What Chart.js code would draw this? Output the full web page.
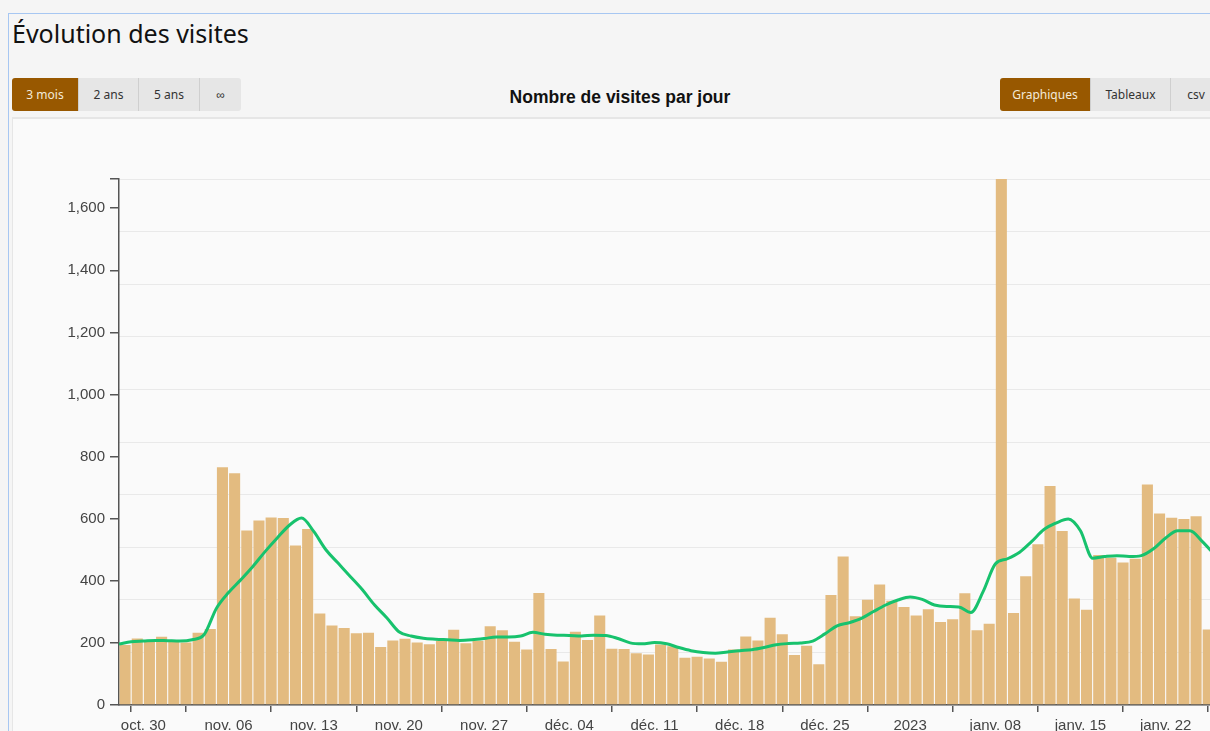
<!DOCTYPE html>
<html lang="fr">
<head>
<meta charset="utf-8">
<title>Évolution des visites</title>
<script src="https://cdn.jsdelivr.net/npm/chart.js@4/dist/chart.umd.min.js"></script>
<style>
  html, body { margin: 0; padding: 0; background: #f5f5f5; overflow: hidden; width: 1210px; height: 731px; }
  #cadre { position: absolute; left: 8px; top: 13px; width: 1400px; height: 900px; border-top: 1px solid #a7c7f2; border-left: 1px solid #a7c7f2; }
  h1 { position: absolute; left: 12px; top: 16px; margin: 0; font: 400 25px "Noto Sans", sans-serif; color: #111; }
  .groupe { position: absolute; top: 78px; display: flex; height: 33px; }
  .groupe button { border: 0; border-right: 1px solid #cfcfcf; background: #e6e6e6; color: #333; font: 12px "Noto Sans", sans-serif; padding: 0; height: 33px; }
  .groupe button:first-child { border-radius: 3px 0 0 3px; }
  .groupe button:last-child { border-right: 0; border-radius: 0 3px 3px 0; }
  .groupe button.actif { background: #985800; color: #f4ead9; }
  #titre { position: absolute; left: 420px; width: 400px; top: 87px; text-align: center; font: bold 17.5px "Liberation Sans", Arial, sans-serif; color: #111; }
  #panneau { position: absolute; left: 12px; top: 117px; width: 1300px; height: 700px; border-top: 2px solid #e6e6e6; border-left: 1px solid #e6e6e6; background: #fafafa; }
  #graphique { position: absolute; left: 12px; top: 121px; }
</style>
</head>
<body>
<div id="cadre"></div>
<h1>Évolution des visites</h1>
<div class="groupe" style="left:12px">
  <button class="actif" style="width:67px">3 mois</button>
  <button style="width:60px">2 ans</button>
  <button style="width:61px">5 ans</button>
  <button style="width:41px">∞</button>
</div>
<div id="titre">Nombre de visites par jour</div>
<div class="groupe" style="left:1000px">
  <button class="actif" style="width:91px">Graphiques</button>
  <button style="width:80px">Tableaux</button>
  <button style="width:50px">csv</button>
</div>
<div id="panneau"></div>
<canvas id="graphique" width="1230" height="610"></canvas>

<script>
// visites par jour, du 28 oct. 2022 au 25 janv. 2023
const visites = [
  193, 214, 205, 220, 204, 201, 233, 245, 766, 746,
  562, 594, 604, 602, 514, 567, 295, 256, 248, 231,
  233, 187, 208, 213, 201, 196, 206, 242, 199, 207,
  254, 241, 204, 179, 361, 180, 140, 236, 209, 288,
  181, 180, 167, 163, 195, 189, 152, 155, 150, 139,
  179, 221, 208, 281, 228, 161, 191, 131, 354, 478,
  286, 339, 388, 336, 316, 288, 308, 267, 276, 360,
  241, 262, 1694, 296, 415, 518, 705, 560, 343, 307,
  483, 474, 459, 471, 710, 617, 603, 599, 608, 243
];

// courbe de tendance (moyenne lissée), un point par début de journée
const moyenne = [
  196, 204, 206, 208, 207, 206, 210, 227, 311, 362,
  403, 446, 494, 538, 579, 602, 559, 500, 457, 414,
  371, 322, 281, 236, 222, 215, 212, 210, 208, 210,
  214, 219, 219, 222, 234, 228, 225, 224, 222, 225,
  224, 214, 200, 197, 201, 197, 185, 175, 169, 167,
  171, 175, 178, 185, 194, 198, 200, 206, 229, 255,
  265, 279, 301, 322, 338, 348, 340, 322, 317, 316,
  298, 365, 454, 471, 492, 527, 565, 586, 599, 561,
  473, 478, 481, 478, 481, 503, 538, 561, 561, 527,
  485
];

// graduations de l'axe des dates (jours depuis le 28 oct.)
const joursGraduation = [0, 2, 9, 16, 23, 30, 37, 44, 51, 58, 65, 72, 79, 86];
const libellesDates = ['', 'oct. 30', 'nov. 06', 'nov. 13', 'nov. 20', 'nov. 27', 'déc. 04',
  'déc. 11', 'déc. 18', 'déc. 25', '2023', 'janv. 08', 'janv. 15', 'janv. 22'];
const graduationsVisites = [0, 200, 400, 600, 800, 1000, 1200, 1400, 1600];

const maxVisites = Math.max(...visites);
const policeAxe = { family: '"Liberation Sans", Arial, sans-serif', size: 15 };

new Chart(document.querySelector('#graphique'), {
  data: {
    datasets: [
      {
        type: 'line',
        data: moyenne.map((v, i) => ({ x: i, y: v })),
        borderColor: '#17c26d',
        borderWidth: 3,
        pointRadius: 0,
        cubicInterpolationMode: 'monotone',
        order: 0
      },
      {
        type: 'bar',
        data: visites.map((v, i) => ({ x: i + 0.5, y: v })),
        backgroundColor: '#e3bb80',
        barPercentage: 0.91,
        categoryPercentage: 1,
        order: 1
      }
    ]
  },
  options: {
    responsive: false,
    animation: false,
    layout: { padding: { top: 58, right: 15.5, bottom: 0, left: 0 } },
    plugins: { legend: { display: false }, tooltip: { enabled: false } },
    scales: {
      x: {
        type: 'linear',
        min: 0,
        max: 91,
        offset: false,
        grid: { drawOnChartArea: false, drawTicks: true, tickLength: 7, color: '#555', lineWidth: 1.5 },
        border: { color: '#555', width: 1.5 },
        afterBuildTicks: (axe) => { axe.ticks = joursGraduation.map(v => ({ value: v })); },
        afterFit: (axe) => { axe.height = 26; },
        ticks: {
          autoSkip: false,
          maxRotation: 0,
          padding: 5,
          color: '#444',
          font: policeAxe,
          callback: (valeur) => libellesDates[joursGraduation.indexOf(valeur)]
        }
      },
      y: {
        min: 0,
        max: maxVisites,
        grid: { drawOnChartArea: false, drawTicks: true, tickLength: 9, color: '#555', lineWidth: 1.5 },
        border: { color: '#555', width: 1.5 },
        afterBuildTicks: (axe) => { axe.ticks = [...graduationsVisites, maxVisites].map(v => ({ value: v })); },
        afterFit: (axe) => { axe.width = 107; },
        ticks: {
          autoSkip: false,
          padding: 5,
          color: '#444',
          font: policeAxe,
          callback: (valeur) => valeur === maxVisites ? '' : valeur.toLocaleString('en-US')
        }
      },
      // quadrillage de fond en dix bandes
      grille: {
        type: 'linear',
        position: 'right',
        min: 0,
        max: 10,
        grid: { color: '#e9e9e9', drawTicks: false },
        border: { display: false },
        ticks: { display: false, stepSize: 1 },
        afterFit: (axe) => { axe.width = 0; }
      }
    }
  }
});
</script>
</body>
</html>
